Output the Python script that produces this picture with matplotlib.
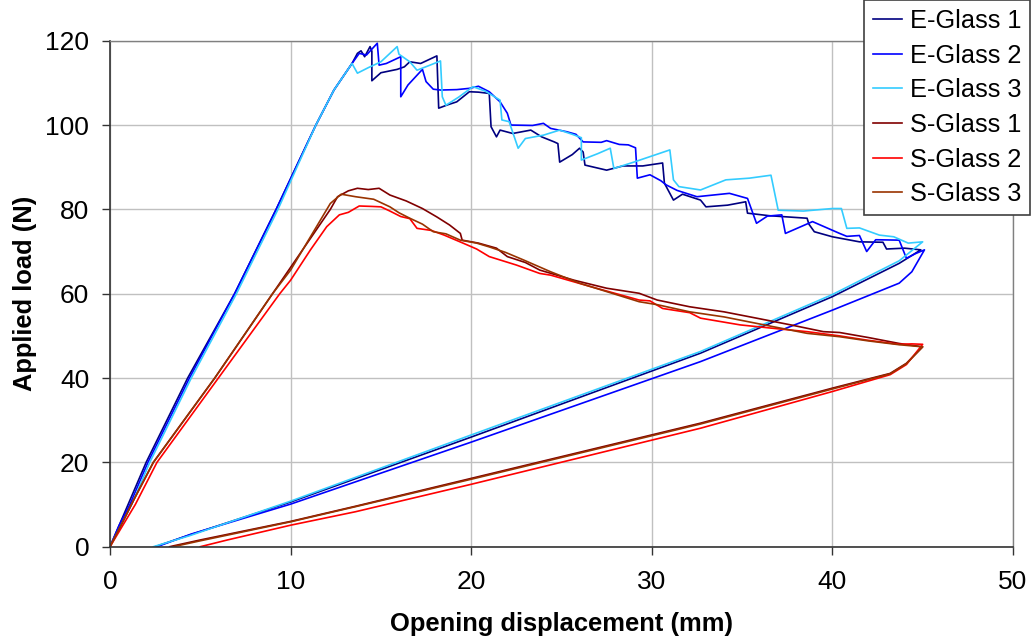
import matplotlib.pyplot as plt

# load-displacement curves (mm, N)
e1_x = [0, 0.5, 1.0, 2.0, 4.3, 6.9, 9.2, 11.4, 12.4, 13.4, 13.7, 13.9, 14.1, 14.4, 14.5, 14.5,
        15.0, 15.9, 16.3, 16.6, 17.2, 18.1, 18.2, 18.7, 19.2, 19.9, 20.4, 21.0, 21.1, 21.4,
        21.6, 22.3, 23.3, 23.9, 24.6, 24.8, 24.9, 25.6, 26.0, 26.2, 26.3, 27.5, 28.4, 29.5,
        30.6, 30.7, 31.2, 31.7, 32.7, 33.0, 34.2, 35.2, 35.3, 36.5, 38.6, 38.7, 39.0, 40.0,
        41.5, 42.8, 43.0, 44.0, 44.9,
        43.7, 40.0, 32.7, 20.0, 10.0, 4.0, 2.5]
e1_y = [0, 5, 10, 20, 40, 60, 80, 100, 108.3, 114.6, 117.0, 117.6, 116.2, 118.6, 117.5, 110.5,
        112.4, 113.2, 113.8, 115.0, 114.6, 116.4, 104.0, 104.8, 105.5, 107.9, 107.8, 107.5, 99.6, 97.2,
        98.8, 98.0, 98.8, 97.2, 96.0, 95.6, 91.2, 93.0, 94.5, 93.6, 90.5, 89.3, 90.3, 90.3,
        91.0, 86.2, 82.2, 83.6, 82.2, 80.6, 81.0, 81.8, 79.1, 78.5, 77.9, 76.5, 74.7, 73.5,
        72.3, 72.2, 70.6, 70.8, 70.4,
        67.2, 59.3, 45.9, 26.0, 10.6, 2.2, 0]

e2_x = [0, 0.5, 1.1, 2.1, 4.4, 6.9, 9.2, 11.4, 12.4, 13.4, 13.8, 14.2, 14.8, 14.9, 15.3,
        16.1, 16.1, 16.5, 17.3, 17.5, 17.9, 18.3, 19.2, 19.9, 20.4, 21.0, 21.6, 22.0, 22.2,
        23.4, 24.0, 24.4, 25.3, 25.8, 26.2, 27.2, 27.5, 28.2, 28.7, 29.1, 29.2, 29.9, 30.5,
        30.8, 31.4, 32.5, 34.3, 35.3, 35.8, 36.4, 37.2, 37.4, 38.9, 40.4, 40.8, 41.5, 41.9,
        42.4, 43.7, 44.1, 44.6, 45.1,
        44.4, 43.7, 40.0, 32.7, 20.0, 10.0, 4.5, 2.6]
e2_y = [0, 5, 10, 20, 40, 60, 80, 100, 108.3, 114.6, 117.0, 116.6, 119.4, 114.2, 114.6,
        116.2, 106.7, 109.5, 113.2, 110.3, 108.5, 108.3, 108.4, 108.7, 109.2, 107.9, 105.5, 102.8, 100.0,
        99.9, 100.4, 99.2, 98.4, 97.8, 96.0, 95.9, 96.3, 95.4, 95.3, 94.6, 87.4, 88.2, 86.8,
        85.8, 84.5, 83.0, 83.8, 82.6, 76.7, 78.4, 78.7, 74.3, 77.1, 74.3, 73.6, 73.8, 70.0,
        72.8, 72.7, 68.4, 69.5, 70.4,
        65.2, 62.5, 56.1, 43.9, 24.8, 10.1, 3.0, 0]

e3_x = [0, 0.6, 1.2, 2.2, 4.5, 7.0, 9.3, 11.4, 12.4, 13.4, 13.7, 14.3, 15.0, 15.4, 15.9, 16.0,
        16.6, 17.0, 17.6, 18.3, 18.4, 18.6, 19.3, 20.1, 20.8, 21.6, 21.7, 22.1, 22.6, 23.0,
        24.0, 24.9, 25.6, 26.1, 26.1, 27.0, 27.7, 27.9, 29.0, 31.0, 31.2, 31.5, 32.7, 34.1,
        35.4, 36.6, 37.0, 38.4, 40.0, 40.5, 40.8, 41.5, 42.6, 43.4, 44.2, 45.0,
        43.7, 40.0, 32.7, 20.0, 10.0, 4.4, 2.4]
e3_y = [0, 5, 10, 20, 40, 60, 80, 100, 108.3, 114.6, 112.3, 113.6, 115.0, 116.6, 118.6, 116.8,
        115.0, 113.0, 114.0, 115.2, 106.7, 104.7, 106.6, 109.1, 108.0, 105.9, 101.2, 100.8, 94.5, 96.8,
        97.6, 98.8, 97.8, 97.0, 91.7, 93.2, 94.5, 89.7, 91.2, 94.1, 87.0, 85.4, 84.6, 87.0,
        87.4, 88.1, 79.8, 79.6, 80.2, 80.2, 75.5, 75.6, 73.9, 73.5, 72.0, 72.3,
        67.8, 59.8, 46.3, 26.5, 10.8, 2.6, 0]

s1_x = [0, 0.6, 1.3, 2.4, 5.8, 9.0, 12.2, 12.6, 13.2, 13.7, 14.3, 14.9, 15.5, 16.4, 17.3,
        18.1, 18.8, 19.4, 19.5, 20.4, 21.4, 22.0, 23.0, 23.8, 25.7, 27.5, 29.3, 30.3, 32.1,
        34.0, 35.8, 37.7, 39.5, 40.4, 42.0, 43.7, 45.0,
        44.1, 43.2, 40.0, 32.7, 20.0, 13.6, 10.0, 5.0, 3.3]
s1_y = [0, 5, 11, 20, 40, 60, 80, 83.0, 84.4, 85.0, 84.7, 85.0, 83.4, 82.0, 80.2,
        78.2, 76.3, 74.3, 72.7, 72.0, 70.8, 68.8, 67.4, 65.6, 63.2, 61.3, 60.1, 58.5, 56.9,
        55.7, 54.2, 52.6, 51.0, 50.8, 49.6, 48.2, 47.4,
        43.5, 41.1, 37.6, 29.3, 16.2, 9.6, 6.0, 1.6, 0]

s2_x = [0, 0.7, 1.4, 2.6, 6.0, 9.4, 10.0, 11.1, 12.0, 12.7, 13.2, 13.8, 14.5, 15.0, 15.5,
        16.1, 16.6, 17.0, 17.8, 18.5, 19.6, 20.3, 21.0, 22.5, 23.8, 24.4, 26.6, 29.3, 29.9,
        30.6, 32.1, 32.7, 34.9, 36.7, 38.6, 40.4, 41.9, 43.7, 44.4, 45.0,
        44.1, 43.2, 40.0, 32.7, 20.0, 13.6, 10.0, 6.5, 5.0]
s2_y = [0, 5, 10, 20, 40, 60, 63.2, 70.4, 75.9, 78.7, 79.3, 80.8, 80.7, 80.6, 79.6,
        78.3, 77.8, 75.5, 75.0, 73.9, 71.9, 70.6, 68.8, 66.8, 64.8, 64.4, 61.7, 58.5, 58.3,
        56.5, 55.5, 54.2, 52.6, 51.8, 51.0, 50.0, 49.0, 48.0, 48.1, 48.0,
        43.2, 40.8, 36.8, 28.1, 14.8, 8.3, 5.1, 1.6, 0]

s3_x = [0, 0.6, 1.3, 2.4, 5.8, 9.0, 10.0, 11.1, 12.2, 12.8, 13.6, 14.6, 15.5, 16.0, 16.6,
        17.3, 17.9, 18.6, 19.4, 20.3, 21.0, 21.9, 22.9, 24.4, 26.0, 27.5, 29.3, 30.3, 32.1,
        34.0, 36.7, 38.6, 40.4, 42.0, 43.7, 45.0,
        44.1, 43.2, 40.0, 32.7, 20.0, 13.6, 10.0, 5.0, 3.5]
s3_y = [0, 5, 11, 20, 40, 60, 65.6, 73.5, 81.4, 83.6, 83.0, 82.4, 80.6, 79.2, 77.9,
        76.5, 74.7, 74.2, 72.7, 72.0, 71.1, 69.8, 68.0, 65.2, 62.5, 60.5, 58.1, 57.4, 55.7,
        54.5, 52.2, 50.6, 49.8, 48.8, 47.9, 47.4,
        43.4, 41.0, 37.4, 29.1, 16.0, 9.5, 5.9, 1.4, 0]

labels = ['E-Glass 1', 'E-Glass 2', 'E-Glass 3', 'S-Glass 1', 'S-Glass 2', 'S-Glass 3']
colors = ['#000080', '#0000ff', '#33ccff', '#800000', '#ff0000', '#993300']
series = [(e1_x, e1_y), (e2_x, e2_y), (e3_x, e3_y), (s1_x, s1_y), (s2_x, s2_y), (s3_x, s3_y)]

plt.rcParams['font.family'] = ['Liberation Sans', 'DejaVu Sans']

fig = plt.figure(figsize=(10.33, 6.36), dpi=100)
ax = fig.add_axes([0.1065, 0.1404, 0.8741, 0.7956])

for (xs, ys), lab, col in zip(series, labels, colors):
    ax.plot(xs, ys, color=col, lw=1.2, label=lab)

ax.set_xlim(0, 50)
ax.set_ylim(0, 120)
ax.set_xticks(range(0, 51, 10))
ax.set_yticks(range(0, 121, 20))
ax.grid(True, color='#c0c0c0', lw=1)
ax.set_axisbelow(True)
ax.tick_params(labelsize=19, length=6, width=1, color='#333333')
ax.tick_params(axis='x', pad=11)
ax.tick_params(axis='y', pad=9)

for side in ['left', 'bottom']:
    ax.spines[side].set_color('#333333')
    ax.spines[side].set_linewidth(1.2)
for side in ['top', 'right']:
    ax.spines[side].set_color('#808080')
    ax.spines[side].set_linewidth(1.0)

ax.set_xlabel('Opening displacement (mm)', fontsize=18.4, fontweight='bold', labelpad=13)
ax.set_ylabel('Applied load (N)', fontsize=18.4, fontweight='bold', labelpad=6)

leg = fig.legend(loc='upper right', bbox_to_anchor=(1030 / 1033, 1.0), fontsize=18.3,
                 frameon=True, fancybox=False, framealpha=1, edgecolor='#404040',
                 handlelength=1.15, handletextpad=0.3, labelspacing=0.42, borderpad=0.35,
                 borderaxespad=0)
leg.get_frame().set_linewidth(1.2)

fig.savefig('out.png', dpi=100)
